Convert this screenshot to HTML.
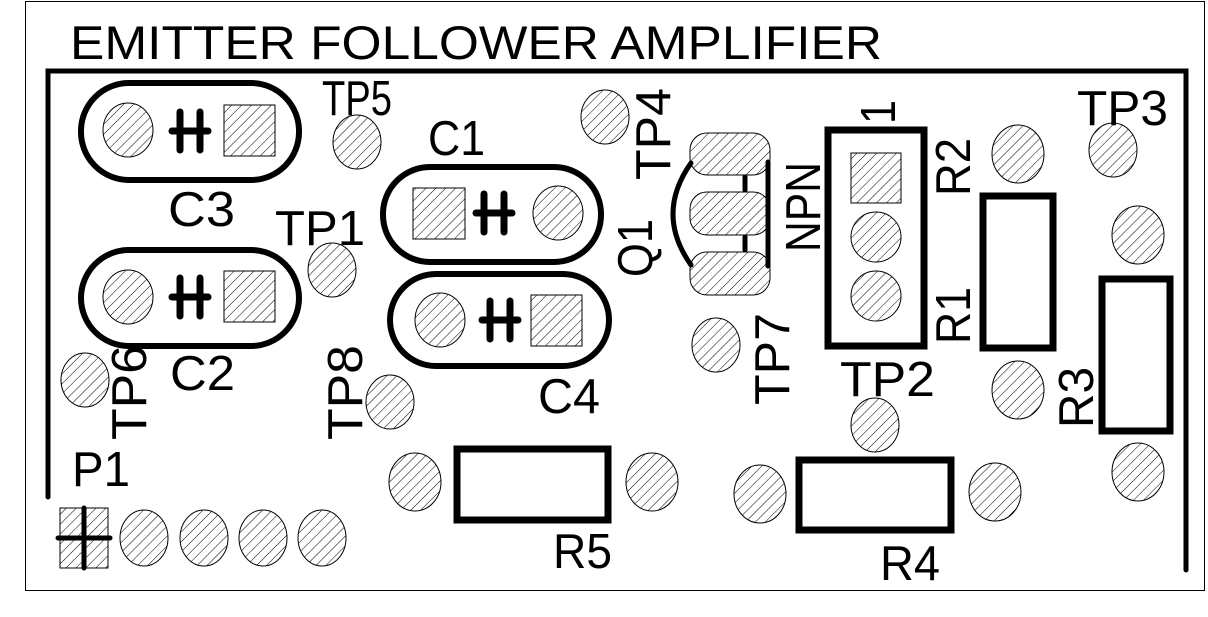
<!DOCTYPE html>
<html><head><meta charset="utf-8"><style>
html,body{margin:0;padding:0;background:#fff;}
svg{display:block;}
text{font-family:"Liberation Sans",sans-serif;fill:#000;}
</style></head><body>
<svg width="1208" height="617" viewBox="0 0 1208 617" xmlns="http://www.w3.org/2000/svg">
<defs>
<pattern id="h" patternUnits="userSpaceOnUse" width="7" height="7" patternTransform="rotate(45)">
<rect width="7" height="7" fill="#fff"/>
<line x1="0" y1="0" x2="0" y2="7" stroke="#000" stroke-width="1"/>
</pattern>
</defs>
<rect x="25.5" y="1.5" width="1179" height="589" fill="none" stroke="#000" stroke-width="1"/>
<path d="M48 497 V71 H1186 V570" fill="none" stroke="#000" stroke-width="5" stroke-linecap="round"/>
<text x="70" y="59" font-size="47" textLength="812" lengthAdjust="spacingAndGlyphs">EMITTER FOLLOWER AMPLIFIER</text>

<g fill="none" stroke="#000" stroke-width="6">
<rect x="81" y="83" width="218" height="97" rx="48"/>
<rect x="81" y="250" width="218" height="96" rx="48"/>
<rect x="383" y="167" width="218" height="95" rx="47"/>
<rect x="390" y="274" width="219" height="92" rx="46"/>
<rect x="828" y="130" width="96" height="216" stroke-width="7"/>
<rect x="983" y="196" width="70" height="152" stroke-width="7"/>
<rect x="1102" y="279" width="68" height="152" stroke-width="7"/>
<rect x="457" y="449" width="151" height="71" stroke-width="7"/>
<rect x="799" y="460" width="152" height="70" stroke-width="7"/>
</g>

<!-- capacitor symbols -->
<g stroke="#000" stroke-width="7" stroke-linecap="round">
<line x1="180" y1="112" x2="180" y2="150"/><line x1="200" y1="112" x2="200" y2="150"/><line x1="172" y1="131" x2="208" y2="131"/>
<line x1="180" y1="278" x2="180" y2="316"/><line x1="200" y1="278" x2="200" y2="316"/><line x1="172" y1="297" x2="208" y2="297"/>
<line x1="484" y1="194" x2="484" y2="232"/><line x1="504" y1="194" x2="504" y2="232"/><line x1="476" y1="213" x2="512" y2="213"/>
<line x1="490" y1="301" x2="490" y2="339"/><line x1="510" y1="301" x2="510" y2="339"/><line x1="482" y1="320" x2="518" y2="320"/>
</g>

<g fill="url(#h)" stroke="#000" stroke-width="1">
<ellipse cx="128" cy="130" rx="25" ry="27"/><rect x="224" y="105" width="51" height="51"/>
<ellipse cx="128" cy="297" rx="25" ry="27"/><rect x="224" y="271" width="51" height="51"/>
<rect x="413" y="188" width="52" height="51"/><ellipse cx="558" cy="213" rx="25" ry="27"/>
<ellipse cx="440" cy="320" rx="25" ry="27"/><rect x="531" y="295" width="51" height="51"/>
<ellipse cx="357" cy="142" rx="24" ry="27"/>
<ellipse cx="332" cy="270" rx="24" ry="27"/>
<ellipse cx="605" cy="117" rx="24" ry="27"/>
<ellipse cx="85" cy="380" rx="24" ry="27"/>
<ellipse cx="390" cy="402" rx="24" ry="27"/>
<ellipse cx="716" cy="345" rx="24" ry="27"/>
<ellipse cx="875" cy="425" rx="24" ry="27"/>
<ellipse cx="1113" cy="150" rx="24" ry="27"/>
<ellipse cx="1018" cy="154" rx="26" ry="29"/>
<ellipse cx="1018" cy="390" rx="26" ry="29"/>
<ellipse cx="1138" cy="235" rx="26" ry="29"/>
<ellipse cx="1138" cy="472" rx="26" ry="29"/>
<ellipse cx="415" cy="482" rx="26" ry="29"/>
<ellipse cx="652" cy="482" rx="26" ry="29"/>
<ellipse cx="760" cy="494" rx="26" ry="29"/>
<ellipse cx="995" cy="492" rx="26" ry="29"/>
<rect x="851" y="153" width="50" height="50"/>
<ellipse cx="876" cy="237" rx="25" ry="25"/>
<ellipse cx="876" cy="296" rx="25" ry="25"/>
<rect x="60" y="508" width="48" height="60"/>
<ellipse cx="144" cy="538" rx="24" ry="28"/>
<ellipse cx="204" cy="538" rx="24" ry="28"/>
<ellipse cx="263" cy="538" rx="24" ry="28"/>
<ellipse cx="322" cy="538" rx="24" ry="28"/>
<rect x="690" y="133" width="80" height="42" rx="17"/>
<rect x="690" y="192" width="80" height="43" rx="17"/>
<rect x="690" y="252" width="80" height="43" rx="17"/>
</g>
<g stroke="#000" stroke-width="5" stroke-linecap="round" fill="none">
<line x1="58" y1="538" x2="110" y2="538"/><line x1="84" y1="508" x2="84" y2="568"/>
<path d="M691 163 Q655 214 691 265"/>
<line x1="768" y1="162" x2="768" y2="266"/>
<line x1="745" y1="177" x2="745" y2="190"/><line x1="745" y1="237" x2="745" y2="250"/>
</g>

<g font-size="49">
<text x="322" y="115" textLength="70" lengthAdjust="spacingAndGlyphs">TP5</text>
<text x="428" y="155" textLength="57" lengthAdjust="spacingAndGlyphs">C1</text>
<text x="168" y="226" textLength="67" lengthAdjust="spacingAndGlyphs">C3</text>
<text x="275" y="245" textLength="90" lengthAdjust="spacingAndGlyphs">TP1</text>
<text x="170" y="390" textLength="65" lengthAdjust="spacingAndGlyphs">C2</text>
<text x="538" y="413" textLength="62" lengthAdjust="spacingAndGlyphs">C4</text>
<text x="72" y="486" textLength="58" lengthAdjust="spacingAndGlyphs">P1</text>
<text x="553" y="568" textLength="59" lengthAdjust="spacingAndGlyphs">R5</text>
<text x="880" y="580" textLength="60" lengthAdjust="spacingAndGlyphs">R4</text>
<text x="840" y="396" textLength="95" lengthAdjust="spacingAndGlyphs">TP2</text>
<text x="1077" y="125" textLength="91" lengthAdjust="spacingAndGlyphs">TP3</text>
<text transform="translate(146,440) rotate(-90)" textLength="95" lengthAdjust="spacingAndGlyphs">TP6</text>
<text transform="translate(362,440) rotate(-90)" textLength="95" lengthAdjust="spacingAndGlyphs">TP8</text>
<text transform="translate(789,405) rotate(-90)" textLength="92" lengthAdjust="spacingAndGlyphs">TP7</text>
<text transform="translate(670,180) rotate(-90)" textLength="92" lengthAdjust="spacingAndGlyphs">TP4</text>
<text transform="translate(652,277) rotate(-90)" textLength="58" lengthAdjust="spacingAndGlyphs">Q1</text>
<text transform="translate(820,252) rotate(-90)" textLength="90" lengthAdjust="spacingAndGlyphs">NPN</text>
<text transform="translate(895,124) rotate(-90)" textLength="24" lengthAdjust="spacingAndGlyphs">1</text>
<text transform="translate(970,196) rotate(-90)" textLength="58" lengthAdjust="spacingAndGlyphs">R2</text>
<text transform="translate(970,344) rotate(-90)" textLength="57" lengthAdjust="spacingAndGlyphs">R1</text>
<text transform="translate(1093,428) rotate(-90)" textLength="61" lengthAdjust="spacingAndGlyphs">R3</text>
</g>
</svg>
</body></html>
